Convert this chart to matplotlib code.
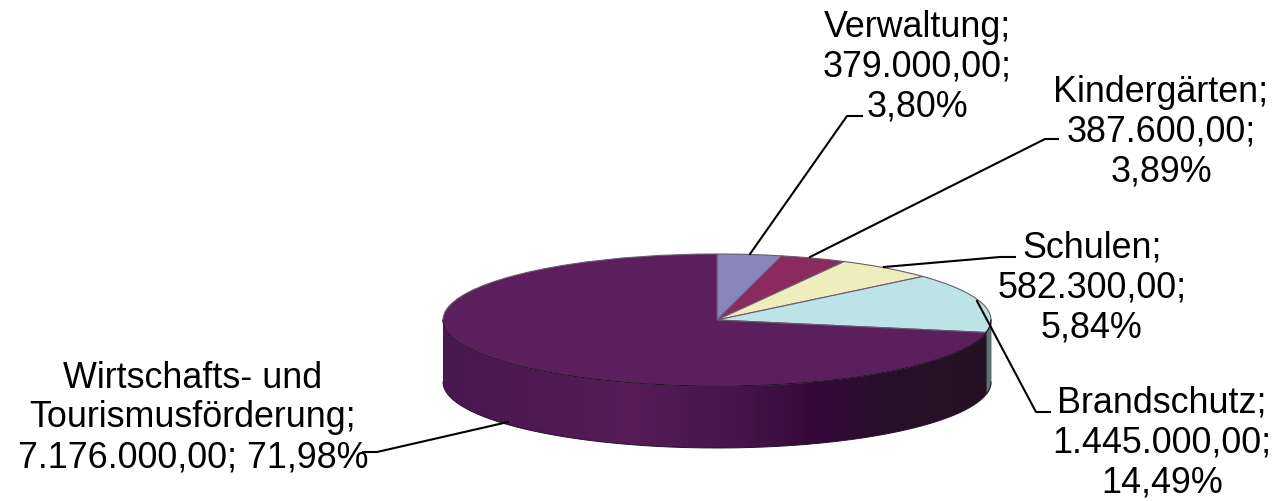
# coding: utf-8
"""
Kreisdiagramm (3D-Optik) der Ausgaben nach Bereich
"""
import numpy as np
import matplotlib
matplotlib.use("Agg")
import matplotlib.pyplot as plt
from matplotlib.colors import LinearSegmentedColormap
from matplotlib.patches import Polygon

plt.rcParams['font.family'] = ['Liberation Sans', 'DejaVu Sans']

# Daten
bereiche = ["Verwaltung", "Kindergärten", "Schulen", "Brandschutz",
            "Wirtschafts- und Tourismusförderung"]
betraege = [379000.00, 387600.00, 582300.00, 1445000.00, 7176000.00]
prozente = ["3,80%", "3,89%", "5,84%", "14,49%", "71,98%"]
betrag_texte = ["379.000,00", "387.600,00", "582.300,00", "1.445.000,00", "7.176.000,00"]
farben = ["#8886BD", "#8A2A5E", "#EEEEBC", "#BCE4E6", "#5A1F5C"]

# Geometrie in Pixeln
W, H = 1280, 502
CX, CY = 717, 321
RX, RY = 274, 66
TIEFE = 62

fig = plt.figure(figsize=(W / 100, H / 100), dpi=100)

# Achse der Torte: eine Einheit = Radius, elliptisch gestaucht
ax = fig.add_axes([0, 0, 1, 1])
ax.pie(betraege, colors=farben, startangle=90, counterclock=False, center=(0, 0), radius=1,
       wedgeprops=dict(edgecolor="#6A5A70", linewidth=0.8, zorder=3))
ax.set_aspect("auto")
xlim = (-CX / RX, (W - CX) / RX)
ylim = ((CY - H) / RY, CY / RY)

# Seitenwand
d = TIEFE / RY
phi = np.linspace(np.pi, 2 * np.pi, 200)
xs = np.cos(phi)
ys = np.sin(phi)
wand = Polygon(np.vstack([np.c_[xs, ys - d], np.c_[xs[::-1], ys[::-1]]]),
               closed=True, facecolor="none", edgecolor="none")
ax.add_patch(wand)
verlauf = LinearSegmentedColormap.from_list("wand", [
    (0.0, "#4A1850"), (0.35, "#551C58"), (0.55, "#45144A"), (0.68, "#35083A"),
    (0.80, "#27102A"), (1.0, "#241024")])
img = ax.imshow(np.linspace(0, 1, 300).reshape(1, -1), cmap=verlauf, aspect="auto",
                extent=(-1, 1, -1 - d, 0.2), zorder=1)
img.set_clip_path(wand)

# dunkle Kante vorne am Deckel
ax.plot(xs, ys, color="#2A1030", lw=0.8, zorder=4)

# schmaler Streifen Brandschutz an der rechten Wand
winkel = 2 * np.pi * sum(betraege[:4]) / sum(betraege)
x_rand = np.sin(winkel)
rest = np.linspace(x_rand, 1, 20)
ax.fill_between(rest, -np.sqrt(1 - rest ** 2) - d, np.sqrt(1 - rest ** 2) * 0 + 0.0,
                color="#5A7474", zorder=2, linewidth=0)
ax.plot(xs, ys - d, color="#2A1030", lw=0.7, zorder=2)
ax.set_xlim(xlim)
ax.set_ylim(ylim)

# Beschriftung in Pixelkoordinaten
top = fig.add_axes([0, 0, 1, 1], facecolor="none")
top.set_xlim(0, W)
top.set_ylim(H, 0)
top.axis("off")

FS = 25.8
zeilen = [
    (f"{bereiche[0]};\n{betrag_texte[0]};\n{prozente[0]}", 917, 67),
    (f"{bereiche[1]};\n{betrag_texte[1]};\n{prozente[1]}", 1161, 132),
    (f"{bereiche[2]};\n{betrag_texte[2]};\n{prozente[2]}", 1092, 288),
    (f"{bereiche[3]};\n{betrag_texte[3]};\n{prozente[3]}", 1162, 443),
    ("Wirtschafts- und\nTourismusförderung;\n" + f"{betrag_texte[4]}; {prozente[4]}", 193, 418),
]
for text, x, y in zeilen:
    top.text(x, y, text, ha="center", va="center", fontsize=FS, color="black", linespacing=1.17)

# Führungslinien
linien = [
    ([750, 847, 862], [255, 117, 117]),
    ([810, 1045, 1058], [258, 140, 140]),
    ([884, 1000, 1015], [268, 258, 258]),
    ([977, 1036, 1050], [302, 413, 413]),
    ([508, 377, 363], [423, 453, 453]),
]
for lx, ly in linien:
    top.plot(lx, ly, color="black", lw=1.5)

fig.savefig("out.png", dpi=100)
